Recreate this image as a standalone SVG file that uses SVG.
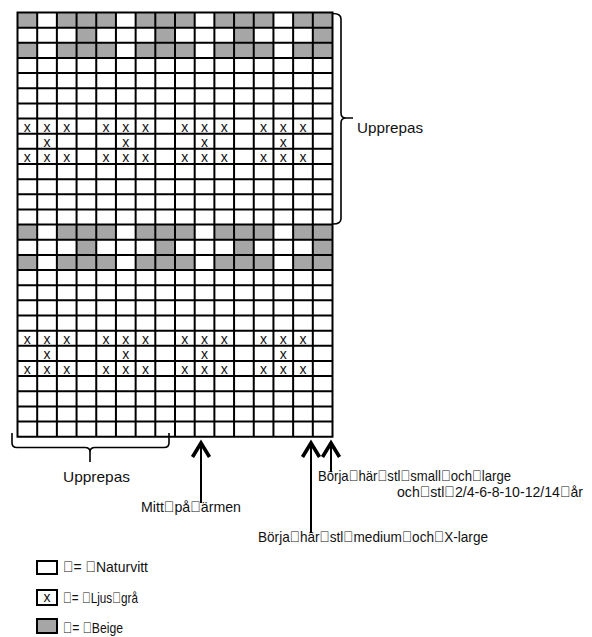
<svg xmlns="http://www.w3.org/2000/svg" width="592" height="637" viewBox="0 0 592 637">
<style>
text{font-family:"Liberation Sans",Arial,sans-serif;font-size:15px;fill:#111}
.gy{fill:#a6a6a6}
.grid{fill:none;stroke:#000;stroke-width:2;stroke-linecap:square}
.x{font-size:14px;text-anchor:middle}
.br{fill:none;stroke:#000;stroke-width:1.6}
.ar{fill:none;stroke:#000;stroke-width:2}
.box{fill:#fff;stroke:#000;stroke-width:2}
.box.gy{fill:#a6a6a6}
</style>
<defs>
<marker id="ah" markerUnits="userSpaceOnUse" viewBox="-16 -11 20 22" refX="0" refY="0" markerWidth="20" markerHeight="22" orient="auto">
<path d="M-14,-8.5 L0,0 L-14,8.5" fill="none" stroke="#000" stroke-width="3.6"/>
</marker>
</defs>
<g id="chart">
<rect x="17.5" y="12.5" width="315" height="424.2" fill="#fff"/>
<g id="beige-cells">
<path class="gy" d="M17.5,12.5h19.69v15.15h-19.69z M56.88,12.5h59.06v15.15h-59.06z M135.63,12.5h59.06v15.15h-59.06z M214.38,12.5h59.06v15.15h-59.06z M293.13,12.5h39.37v15.15h-39.37z"/>
<path class="gy" d="M76.56,27.65h19.69v15.15h-19.69z M155.31,27.65h19.69v15.15h-19.69z M234.06,27.65h19.69v15.15h-19.69z M312.81,27.65h19.69v15.15h-19.69z"/>
<path class="gy" d="M17.5,42.8h19.69v15.15h-19.69z M56.88,42.8h59.06v15.15h-59.06z M135.63,42.8h59.06v15.15h-59.06z M214.38,42.8h59.06v15.15h-59.06z M293.13,42.8h39.37v15.15h-39.37z"/>
<path class="gy" d="M17.5,224.6h19.69v15.15h-19.69z M56.88,224.6h59.06v15.15h-59.06z M135.63,224.6h59.06v15.15h-59.06z M214.38,224.6h59.06v15.15h-59.06z M293.13,224.6h39.37v15.15h-39.37z"/>
<path class="gy" d="M76.56,239.75h19.69v15.15h-19.69z M155.31,239.75h19.69v15.15h-19.69z M234.06,239.75h19.69v15.15h-19.69z M312.81,239.75h19.69v15.15h-19.69z"/>
<path class="gy" d="M17.5,254.9h19.69v15.15h-19.69z M56.88,254.9h59.06v15.15h-59.06z M135.63,254.9h59.06v15.15h-59.06z M214.38,254.9h59.06v15.15h-59.06z M293.13,254.9h39.37v15.15h-39.37z"/>
</g>
<g id="grid-lines">
<path class="grid" d="M17.5,12.5V436.7 M37.19,12.5V436.7 M56.88,12.5V436.7 M76.56,12.5V436.7 M96.25,12.5V436.7 M115.94,12.5V436.7 M135.63,12.5V436.7 M155.31,12.5V436.7 M175,12.5V436.7 M194.69,12.5V436.7 M214.38,12.5V436.7 M234.06,12.5V436.7 M253.75,12.5V436.7 M273.44,12.5V436.7 M293.13,12.5V436.7 M312.81,12.5V436.7 M332.5,12.5V436.7
M17.5,12.5H332.5 M17.5,27.65H332.5 M17.5,42.8H332.5 M17.5,57.95H332.5 M17.5,73.1H332.5 M17.5,88.25H332.5 M17.5,103.4H332.5 M17.5,118.55H332.5 M17.5,133.7H332.5 M17.5,148.85H332.5 M17.5,164H332.5 M17.5,179.15H332.5 M17.5,194.3H332.5 M17.5,209.45H332.5 M17.5,224.6H332.5 M17.5,239.75H332.5 M17.5,254.9H332.5 M17.5,270.05H332.5 M17.5,285.2H332.5 M17.5,300.35H332.5 M17.5,315.5H332.5 M17.5,330.65H332.5 M17.5,345.8H332.5 M17.5,360.95H332.5 M17.5,376.1H332.5 M17.5,391.25H332.5 M17.5,406.4H332.5 M17.5,421.55H332.5 M17.5,436.7H332.5"/>
</g>
<g id="grey-marks">
<text class="x" x="27.34 47.03 66.72 106.09 125.78 145.47 184.84 204.53 224.22 263.59 283.28 302.97" y="131.6">xxxxxxxxxxxx</text>
<text class="x" x="47.03 125.78 204.53 283.28" y="146.8">xxxx</text>
<text class="x" x="27.34 47.03 66.72 106.09 125.78 145.47 184.84 204.53 224.22 263.59 283.28 302.97" y="161.9">xxxxxxxxxxxx</text>
<text class="x" x="27.34 47.03 66.72 106.09 125.78 145.47 184.84 204.53 224.22 263.59 283.28 302.97" y="343.7">xxxxxxxxxxxx</text>
<text class="x" x="47.03 125.78 204.53 283.28" y="358.9">xxxx</text>
<text class="x" x="27.34 47.03 66.72 106.09 125.78 145.47 184.84 204.53 224.22 263.59 283.28 302.97" y="374">xxxxxxxxxxxx</text>
</g>
</g>
<g id="connectors">
<path class="br" d="M333,13.5 Q341,13.5 341,19 L341,113 Q341,118 346,118 L353,118 M346,118 Q341,118 341,123 L341,218.5 Q341,224 333,224"/>
<path class="br" stroke-width="2" d="M12,433 L12,443 Q12,447.5 17,447.5 L85,447.5 Q90,447.5 90,452 L90,462 M90,452 Q90,447.5 95,447.5 L164,447.5 Q169,447.5 169,443 L169,433"/>
<path class="ar" d="M201,503 L201,443" marker-end="url(#ah)"/>
<path class="ar" d="M311,533 L311,443" marker-end="url(#ah)"/>
<path class="ar" d="M331,472 L331,443" marker-end="url(#ah)"/>
</g>
<g id="label-repeat-right"><text x="357" y="133" textLength="66" lengthAdjust="spacingAndGlyphs">Upprepas</text></g>
<g id="label-repeat-bottom"><text x="63" y="482" textLength="67" lengthAdjust="spacingAndGlyphs">Upprepas</text></g>
<g id="label-mid"><text x="141" y="511.5" textLength="100" lengthAdjust="spacingAndGlyphs">Mitt&#xF020;på&#xF020;ärmen</text></g>
<g id="label-small"><text x="318" y="481" textLength="193" lengthAdjust="spacingAndGlyphs">Börja&#xF020;här&#xF020;stl&#xF020;small&#xF020;och&#xF020;large</text>
<text x="397" y="496.5" textLength="186" lengthAdjust="spacingAndGlyphs">och&#xF020;stl&#xF020;2/4-6-8-10-12/14&#xF020;år</text></g>
<g id="label-medium"><text x="258" y="541.5" textLength="230" lengthAdjust="spacingAndGlyphs">Börja&#xF020;här&#xF020;stl&#xF020;medium&#xF020;och&#xF020;X-large</text></g>
<g id="legend-natur"><rect class="box" x="37" y="561" width="20" height="13"/><text x="63" y="572" textLength="85" lengthAdjust="spacingAndGlyphs">&#xF020;= &#xF020;Naturvitt</text></g>
<g id="legend-ljus"><rect class="box" x="37" y="590" width="20" height="15"/><text class="x" x="47" y="602">x</text><text x="63" y="603" textLength="75" lengthAdjust="spacingAndGlyphs">&#xF020;= &#xF020;Ljus&#xF020;grå</text></g>
<g id="legend-beige"><rect class="box gy" x="37" y="619" width="20" height="14"/><text x="63" y="633" textLength="60" lengthAdjust="spacingAndGlyphs">&#xF020;= &#xF020;Beige</text></g>
</svg>
